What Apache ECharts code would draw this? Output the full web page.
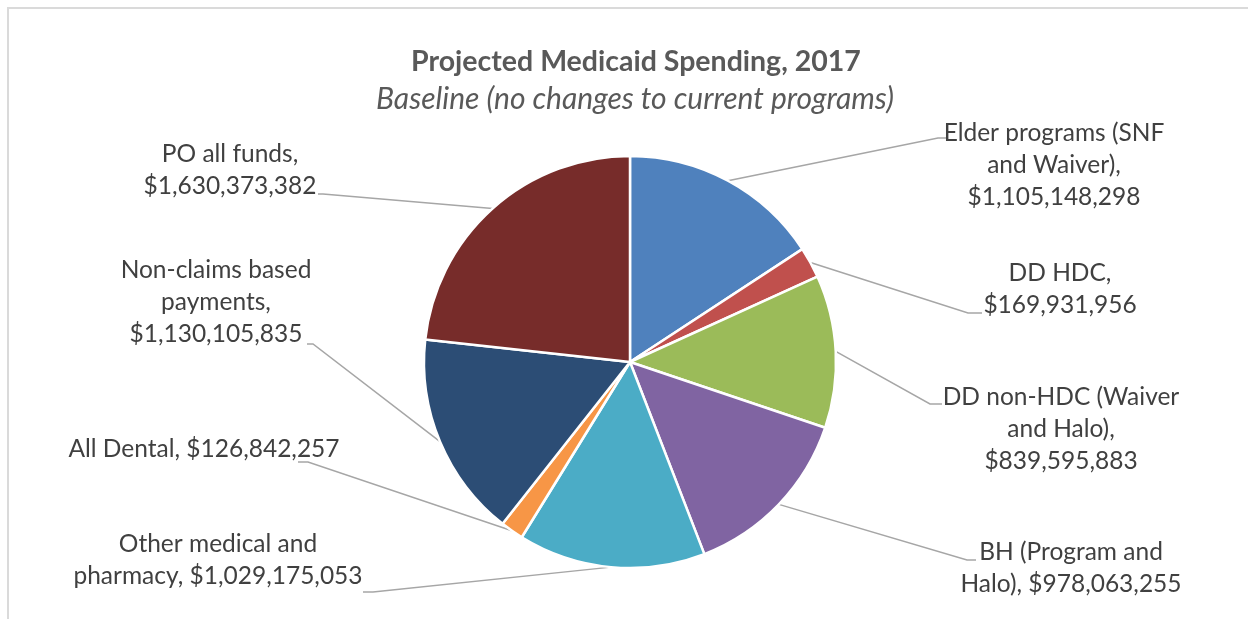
<!DOCTYPE html>
<html><head><meta charset="utf-8">
<script src="https://cdn.jsdelivr.net/npm/echarts@6/dist/echarts.min.js"></script>
<style>
html,body{margin:0;padding:0;background:#fff;}
#wrap{position:relative;width:1248px;height:619px;overflow:hidden;}
#chart{position:absolute;left:0;top:0;width:1248px;height:619px;}
#frame{position:absolute;left:7px;top:7px;width:1400px;height:800px;border-left:2px solid #DADADA;border-top:2px solid #DADADA;pointer-events:none;}
</style></head>
<body><div id="wrap"><div id="chart"></div><div id="frame"></div></div>
<script>
// ---- data ----
const titleText = "Projected Medicaid Spending, 2017";
const subtitleText = "Baseline (no changes to current programs)";
const categories = [
  "Elder programs (SNF and Waiver)",
  "DD HDC",
  "DD non-HDC (Waiver and Halo)",
  "BH (Program and Halo)",
  "Other medical and pharmacy",
  "All Dental",
  "Non-claims based payments",
  "PO all funds"
];
const values = [1105148298, 169931956, 839595883, 978063255, 1029175053, 126842257, 1130105835, 1630373382];

// ---- styles / layout (not data) ----
const colors = ["#4F81BD", "#C0504D", "#9BBB59", "#8064A2", "#4BACC6", "#F79646", "#2C4D75", "#772C2A"];
// words per wrapped line for each label
const wrapWords = [[3, 2, 1], [2, 1], [3, 2, 1], [3, 2], [3, 2], [3], [2, 1, 1], [3, 1]];
// label centre and leader-line elbow/end points
const labelPlace = [
  { x: 1054, y: 165, elbow: [938, 138], end: [947, 138] },
  { x: 1060, y: 289, elbow: [968, 313], end: [982, 313] },
  { x: 1061, y: 429, elbow: [930, 404], end: [942, 404] },
  { x: 1071, y: 568, elbow: [967, 560], end: [976, 560] },
  { x: 218, y: 560, elbow: [373, 592], end: [363, 592] },
  { x: 204, y: 449, elbow: [308, 462], end: [298, 462] },
  { x: 216, y: 302, elbow: [313, 344], end: [307, 344] },
  { x: 230, y: 170, elbow: [323, 194], end: [318, 194] }
];
const CENTER = [630, 362], RADIUS = 206;

function money(v) { return "$" + v.toLocaleString("en-US"); }
function labelText(i) {
  const words = (categories[i] + ", " + money(values[i])).split(" ");
  const lines = []; let k = 0;
  wrapWords[i].forEach(n => { lines.push(words.slice(k, k + n).join(" ")); k += n; });
  return lines.join("\n");
}
function arcMid(i) {
  const total = values.reduce((a, b) => a + b, 0);
  let cum = 0; for (let j = 0; j < i; j++) cum += values[j];
  const a = (cum + values[i] / 2) / total * 2 * Math.PI;
  return [CENTER[0] + RADIUS * Math.sin(a), CENTER[1] - RADIUS * Math.cos(a)];
}

const chart = echarts.init(document.getElementById("chart"), null, { renderer: "canvas" });
chart.setOption({
  animation: false,
  backgroundColor: "#fff",
  title: [
    { text: titleText, left: 631, top: 42, textAlign: "center",
      textStyle: { fontFamily: "Lato", fontWeight: "bold", fontSize: 28.5, color: "#595959" } },
    { text: subtitleText, left: 630, top: 79, textAlign: "center",
      textStyle: { fontFamily: "Lato", fontStyle: "italic", fontWeight: "normal", fontSize: 30, color: "#595959" } }
  ],
  series: [{
    type: "pie",
    center: CENTER,
    radius: RADIUS,
    startAngle: 90,
    clockwise: true,
    avoidLabelOverlap: false,
    data: categories.map((c, i) => ({ name: c, value: values[i], itemStyle: { color: colors[i] } })),
    itemStyle: { borderColor: "#ffffff", borderWidth: 2.5 },
    emphasis: { disabled: true },
    label: {
      show: true, position: "outside",
      formatter: p => labelText(p.dataIndex),
      color: "#404040", fontFamily: "Lato", fontSize: 24.5, lineHeight: 32, align: "center"
    },
    labelLine: { show: true, smooth: false, lineStyle: { color: "#A6A6A6", width: 1.5 } },
    labelLayout: params => {
      const L = labelPlace[params.dataIndex];
      const p0 = (params.labelLinePoints && params.labelLinePoints[0]) || arcMid(params.dataIndex);
      return { x: L.x, y: L.y, align: "center", verticalAlign: "middle",
               labelLinePoints: [p0, L.elbow, L.end] };
    }
  }]
});
</script>
</body></html>
